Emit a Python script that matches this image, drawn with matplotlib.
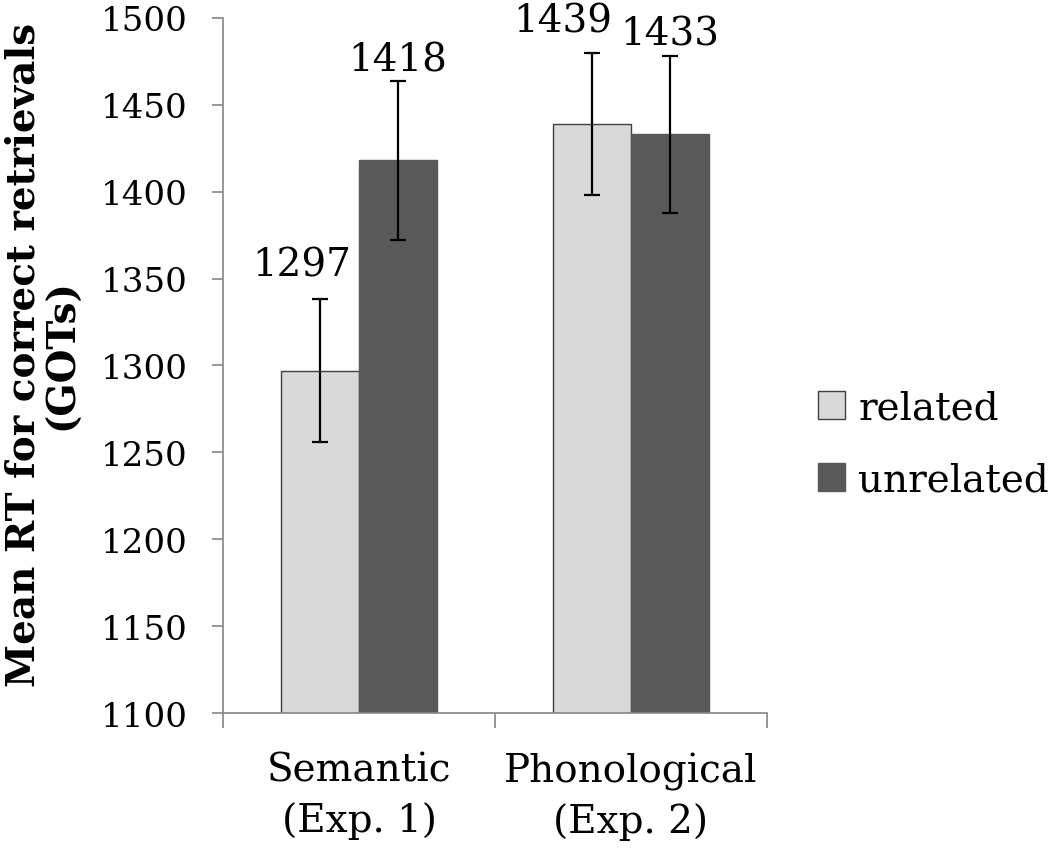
#!/usr/bin/env python3
"""Mean RT for correct retrievals (GOTs), related vs unrelated primes."""
import numpy as np
import matplotlib
matplotlib.use('Agg')
import matplotlib.pyplot as plt

conditions = ['Semantic\n(Exp. 1)', 'Phonological\n(Exp. 2)']
series = ['related', 'unrelated']
related_rt = [1297, 1439]
unrelated_rt = [1418, 1433]
related_err = [41, 41]
unrelated_err = [46, 45]
yticks = list(range(1100, 1501, 50))


def main() -> None:
    plt.rcParams['font.family'] = ['DejaVu Serif']
    fig = plt.figure(figsize=(10.5, 8.54), dpi=100)
    ax = fig.add_axes([0.2124, 0.1639, 0.5181, 0.8139])

    x = np.arange(len(conditions))
    w = 1 / 3.5  # excel gap width 150%
    colors = ['#d9d9d9', '#595959']
    edges = ['#404040', '#595959']
    values = [related_rt, unrelated_rt]
    errs = [related_err, unrelated_err]
    # label nudges in pixels: (dx, gap above the error cap)
    nudges = [[(-18, 24), (-29, 21)], [(0, 10), (0, 12)]]
    for i, name in enumerate(series):
        xs = x + (i - 0.5) * w
        ax.bar(xs, values[i], width=w, color=colors[i],
               edgecolor=edges[i], linewidth=1.0, label=name, zorder=2)
        ax.errorbar(xs, values[i], yerr=errs[i], fmt='none', ecolor='black',
                    elinewidth=1.6, capsize=6, capthick=1.6, zorder=3)
        for j, (xv, v, e) in enumerate(zip(xs, values[i], errs[i])):
            dx, dy = nudges[i][j]
            ax.annotate(f'{v}', (xv, v + e), xytext=(dx * 0.72, dy * 0.72),
                        textcoords='offset points', ha='center', va='baseline',
                        fontsize=28, annotation_clip=False)

    ax.set_xlim(-0.5, len(conditions) - 0.5)
    ax.set_ylim(1100, 1500)
    ax.set_yticks(yticks)
    ax.tick_params(axis='y', direction='out', length=8, width=1.2,
                   color='#868686', pad=17.5, labelsize=24.5)

    ax.set_xticks(np.arange(len(conditions) + 1) - 0.5)
    ax.set_xticklabels([])
    ax.tick_params(axis='x', which='major', direction='out', length=11,
                   width=1.2, color='#868686')
    ax.set_xticks(x, minor=True)
    ax.set_xticklabels(conditions, minor=True, fontsize=28, linespacing=1.4)
    ax.tick_params(axis='x', which='minor', length=0, pad=28)

    for side in ['top', 'right']:
        ax.spines[side].set_visible(False)
    for side in ['left', 'bottom']:
        ax.spines[side].set_color('#868686')
        ax.spines[side].set_linewidth(1.2)

    fig.text(43 / 1050, 1 - 355 / 854, 'Mean RT for correct retrievals\n(GOTs)',
             rotation=90, ha='center', va='center', multialignment='center',
             fontsize=28, fontweight='bold', linespacing=1.0)

    fig.legend(loc='center left', bbox_to_anchor=(818 / 1050, 1 - 445 / 854),
               frameon=False, fontsize=28, handlelength=0.7, handleheight=0.7,
               handletextpad=0.34, labelspacing=0.9, borderaxespad=0,
               borderpad=0)

    fig.savefig('out.png', dpi=100)


if __name__ == '__main__':
    main()
